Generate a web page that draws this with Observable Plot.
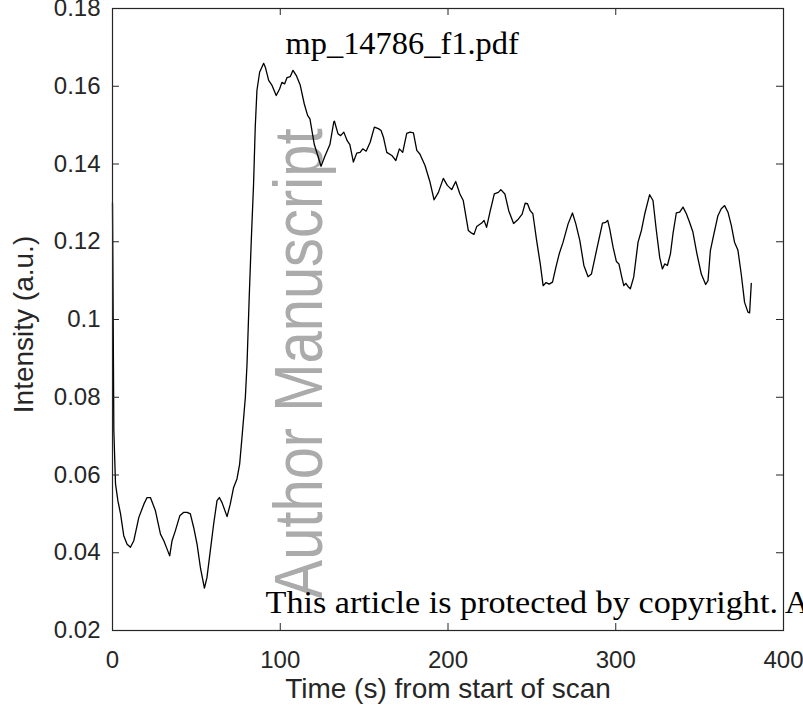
<!DOCTYPE html>
<html><head><meta charset="utf-8">
<script src="https://cdn.jsdelivr.net/npm/d3@7"></script>
<script src="https://cdn.jsdelivr.net/npm/@observablehq/plot@0.6"></script>
<style>html,body{margin:0;padding:0;background:#fff;overflow:hidden} #chart svg{display:block}</style>
</head><body><div id="chart"></div>
<script>
// ---- data ----
const timeS = [0,0.8,1.8,3.2,4.8,6.7,8.7,10.7,12.7,15.7,18.7,20.6,22.6,25.6,28.6,30.6,32.5,34.1,35.5,37.5,40.1,42.5,44.5,46.4,48.4,50.4,52.4,54.8,56.3,58.3,60.3,62.3,63.7,65.3,68.3,70.2,72.2,74.2,75.8,77.2,79.2,80.2,81.5,82.7,84.1,85.1,86.1,87.7,90.1,91.1,93.1,95.1,97.6,99.6,101.0,102.6,104.0,106.0,107.6,109.5,111.9,114.3,116.3,117.7,120.3,122.5,124.3,126.6,129.6,131.9,132.3,134.4,136.0,137.9,139.9,141.5,143.6,145.6,147.6,149.2,151.2,153.6,156.1,158.5,160.1,161.5,163.5,166.5,168.9,171.0,173.0,175.4,177.4,179.4,181.4,183.3,186.3,189.3,191.7,194.3,197.2,199.6,202.2,204.6,207.1,209.1,212.1,214.1,215.5,217.1,220.1,221.5,223.0,225.0,227.6,230.0,231.5,233.9,236.2,239.1,241.9,244.2,246.0,247.4,249.0,250.6,252.8,255.0,256.7,258.5,260.3,262.3,264.3,266.3,268.6,271.6,274.2,276.2,278.6,281.0,283.5,285.5,288.5,292.1,294.0,295.2,296.4,298.4,300.4,301.9,303.4,304.8,306.0,307.3,308.7,310.7,313.3,315.3,317.3,320.2,322.2,324.2,326.2,327.8,329.2,330.8,332.6,334.1,336.1,338.1,340.1,342.1,344.0,346.0,348.4,351.0,353.6,355.0,356.4,358.3,360.9,362.9,364.9,366.9,368.9,370.8,372.8,374.8,376.8,378.8,379.8,380.8];
const intensity = [0.130,0.0714,0.0577,0.0534,0.050,0.0444,0.0422,0.0414,0.0431,0.0491,0.0525,0.0542,0.0542,0.0508,0.0448,0.0431,0.0410,0.0392,0.0431,0.0457,0.0495,0.0504,0.0504,0.0500,0.0465,0.0422,0.0362,0.0309,0.0336,0.0405,0.0474,0.0534,0.0542,0.0529,0.0493,0.0525,0.0568,0.0590,0.0628,0.0697,0.0800,0.0886,0.1057,0.1200,0.1349,0.1495,0.1589,0.1636,0.1659,0.1649,0.1615,0.1602,0.1576,0.1593,0.1610,0.1606,0.1622,0.1625,0.1641,0.1628,0.1603,0.1555,0.1525,0.1516,0.1450,0.1420,0.1394,0.1420,0.1450,0.1508,0.1510,0.1478,0.1473,0.1482,0.1460,0.1450,0.1405,0.1428,0.1430,0.1439,0.1433,0.1456,0.1495,0.1491,0.1486,0.1469,0.1430,0.1422,0.1409,0.1439,0.1430,0.1479,0.1482,0.1480,0.1435,0.1425,0.1396,0.1353,0.1308,0.1327,0.1363,0.1345,0.1334,0.1355,0.1323,0.1306,0.1229,0.1222,0.1219,0.1239,0.1248,0.1255,0.1237,0.1276,0.1323,0.1327,0.1334,0.1323,0.1280,0.1247,0.1258,0.1271,0.1299,0.1298,0.1280,0.1272,0.1204,0.1143,0.1087,0.1095,0.1091,0.1096,0.1134,0.1169,0.1199,0.1246,0.1274,0.1246,0.1203,0.1139,0.1110,0.1117,0.1177,0.1248,0.1250,0.1255,0.1233,0.1186,0.1149,0.1143,0.1113,0.1087,0.1093,0.1085,0.1079,0.1109,0.1199,0.1229,0.1272,0.1321,0.1306,0.1229,0.1160,0.1130,0.1143,0.1139,0.1169,0.1220,0.1274,0.1276,0.1289,0.1272,0.1250,0.1225,0.1169,0.1117,0.1090,0.1100,0.1177,0.1216,0.1267,0.1285,0.1293,0.1276,0.1242,0.1199,0.1179,0.1117,0.1044,0.1019,0.1017,0.1093];
const xTicks = [0, 100, 200, 300, 400];
const xTickLabels = ["0", "100", "200", "300", "400"];
const yTicks = [0.02, 0.04, 0.06, 0.08, 0.10, 0.12, 0.14, 0.16, 0.18];
const yTickLabels = ["0.02", "0.04", "0.06", "0.08", "0.1", "0.12", "0.14", "0.16", "0.18"];
const xLabel = "Time (s) from start of scan";
const yLabel = "Intensity (a.u.)";
const fileLabel = "mp_14786_f1.pdf";
const copyrightLabel = "This article is protected by copyright. All rights reserved";
const watermarkLabel = "Author Manuscript";

// ---- layout ----
const W = 803, H = 718, mL = 112, mR = 20, mT = 8, mB = 88;
const frameW = W - mL - mR, frameH = H - mT - mB;
const tickLen = 7;
const axisColor = "#262626";
const sans = "'Liberation Sans', Arial, Helvetica, sans-serif";
const serif = "'Liberation Serif', 'Times New Roman', serif";

const data = timeS.map((t, i) => ({t, v: intensity[i]}));

const plot = Plot.plot({
  width: W, height: H,
  marginLeft: mL, marginRight: mR, marginTop: mT, marginBottom: mB,
  style: {fontFamily: sans, background: "#fff", color: axisColor},
  x: {domain: [0, 400]},
  y: {domain: [0.02, 0.18]},
  marks: [
    Plot.text([watermarkLabel], {frameAnchor: "top-left", dx: 209, dy: 590, rotate: -90,
      textAnchor: "start", lineAnchor: "bottom", fontSize: 68, fill: "#ababab", fontFamily: sans}),
    Plot.line(data, {x: "t", y: "v", stroke: "#000", strokeWidth: 1.3}),
    Plot.frame({stroke: axisColor, strokeWidth: 1.2}),
    // inward ticks
    Plot.ruleX(xTicks, {x: d => d, insetTop: frameH - tickLen, stroke: axisColor}),
    Plot.ruleX(xTicks, {x: d => d, insetBottom: frameH - tickLen, stroke: axisColor}),
    Plot.ruleY(yTicks, {y: d => d, insetRight: frameW - tickLen, stroke: axisColor}),
    Plot.ruleY(yTicks, {y: d => d, insetLeft: frameW - tickLen, stroke: axisColor}),
    Plot.axisX(xTicks, {anchor: "bottom", tickSize: 0, tickPadding: 20, fontSize: 24,
      tickFormat: d => xTickLabels[xTicks.indexOf(d)], label: null}),
    Plot.axisY(yTicks, {anchor: "left", tickSize: 0, tickPadding: 12, fontSize: 24,
      tickFormat: d => yTickLabels[yTicks.indexOf(d)], label: null}),
    Plot.text([xLabel], {frameAnchor: "bottom", dy: 67, textAnchor: "middle", lineAnchor: "bottom", fontSize: 28, fill: axisColor}),
    Plot.text([yLabel], {frameAnchor: "left", dx: -80, dy: 5, rotate: -90, textAnchor: "middle", lineAnchor: "bottom", fontSize: 28, fill: axisColor}),
    Plot.text([fileLabel], {frameAnchor: "top-left", dx: 173, dy: 45, textAnchor: "start", lineAnchor: "bottom",
      fontSize: 32, fontFamily: serif, fill: "#000"}),
    Plot.text([copyrightLabel], {frameAnchor: "top-left", dx: 153, dy: 604, textAnchor: "start", lineAnchor: "bottom",
      fontSize: 32, fontFamily: serif, fill: "#000"})
  ]
});

document.getElementById("chart").appendChild(plot);
const texts = d3.select(plot).selectAll("text");
// condense the watermark to the reference's length
texts.filter(function() { return this.textContent === watermarkLabel; })
  .attr("textLength", 470).attr("lengthAdjust", "spacingAndGlyphs");
// widen the serif notes slightly (reference uses a wider serif face)
texts.filter(function() { return this.textContent === copyrightLabel; })
  .each(function() { const L = this.getComputedTextLength(); d3.select(this).attr("textLength", L * 1.068).attr("lengthAdjust", "spacingAndGlyphs"); });
texts.filter(function() { return this.textContent === fileLabel; })
  .each(function() { const L = this.getComputedTextLength(); d3.select(this).attr("textLength", L * 1.013).attr("lengthAdjust", "spacingAndGlyphs"); });
</script>
</body></html>
